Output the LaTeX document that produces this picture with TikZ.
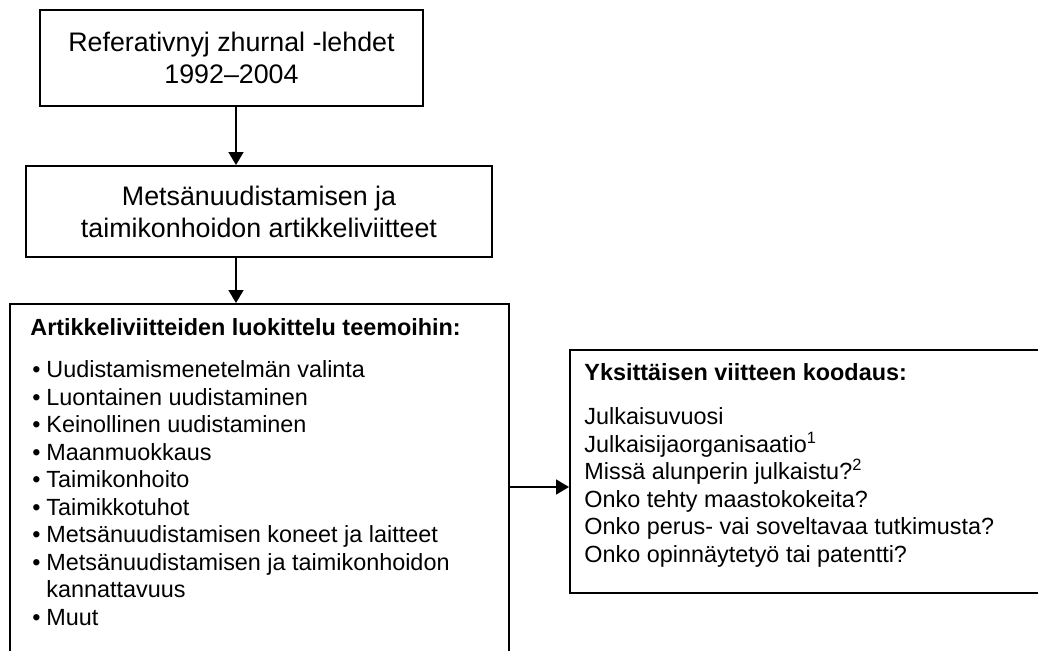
\documentclass[tikz,border=0pt]{standalone}
\usepackage{fontspec}
\setmainfont{Liberation Sans}
\usetikzlibrary{arrows.meta,positioning}
\definecolor{boxblack}{RGB}{0,0,0}
\newcommand{\kohta}[1]{\makebox[7pt][l]{\textbullet}#1}
\tikzset{
    laatikko/.style={draw=boxblack,line width=1pt,fill=white,inner sep=0pt},
    nuoli/.style={draw=boxblack,line width=0.8pt,-{Triangle[length=6.5pt,width=7.5pt]}},
    isoteksti/.style={align=center,font=\fontsize{13.4}{16}\selectfont},
    otsikko/.style={anchor=base west,inner sep=0pt,font=\fontsize{11.7}{13.75}\selectfont\bfseries},
    lista/.style={anchor=base west,inner sep=0pt,align=left,font=\fontsize{11.7}{13.75}\selectfont},
}

\begin{document}
\begin{tikzpicture}[x=0.5pt,y=-0.5pt]
    % Frame of the page
    \useasboundingbox (0,0) rectangle (1038,650);
    \clip (0,0) rectangle (1038,650);

    % Source
    \node[laatikko,isoteksti,minimum width=191.5pt,minimum height=48pt] (lehdet) at (231.5,58) {Referativnyj zhurnal -lehdet\\1992--2004};

    % References
    \node[laatikko,isoteksti,minimum width=233pt,minimum height=45.5pt] (viitteet) at (259,211.5) {Mets\"anuudistamisen ja\\taimikonhoidon artikkeliviitteet};

    % Classification (runs past the lower edge)
    \node[laatikko,anchor=north west,minimum width=249.5pt,minimum height=200pt] (luokittelu) at (9,303) {};
    \node[otsikko] (luokitteluotsikko) at (30,335) {Artikkeliviitteiden luokittelu teemoihin:};
    \node[lista] (teemat) at (32,625) {%
        \kohta{Uudistamismenetelm\"an valinta}\\
        \kohta{Luontainen uudistaminen}\\
        \kohta{Keinollinen uudistaminen}\\
        \kohta{Maanmuokkaus}\\
        \kohta{Taimikonhoito}\\
        \kohta{Taimikkotuhot}\\
        \kohta{Mets\"anuudistamisen koneet ja laitteet}\\
        \kohta{Mets\"anuudistamisen ja taimikonhoidon}\\
        \hspace*{7pt}kannattavuus\\
        \kohta{Muut}};

    % Coding (runs past the right edge)
    \node[laatikko,anchor=north west,minimum width=266pt,minimum height=121.5pt] (koodaus) at (569,349) {};
    \node[otsikko] (koodausotsikko) at (584,380) {Yksitt\"aisen viitteen koodaus:};
    \node[lista] (kentat) at (584,562) {%
        Julkaisuvuosi\\
        Julkaisijaorganisaatio\textsuperscript{1}\\
        Miss\"a alunperin julkaistu?\textsuperscript{2}\\
        Onko tehty maastokokeita?\\
        Onko perus- vai soveltavaa tutkimusta?\\
        Onko opinn\"aytety\"o tai patentti?};

    % Arrows
    \coordinate (akseli) at (236,0);
    \coordinate (haara) at (0,487);
    \draw[nuoli] (lehdet.south -| akseli) -- (viitteet.north -| akseli);
    \draw[nuoli] (viitteet.south -| akseli) -- (luokittelu.north -| akseli);
    \draw[nuoli] (luokittelu.east |- haara) -- (koodaus.west |- haara);
\end{tikzpicture}
\end{document}
